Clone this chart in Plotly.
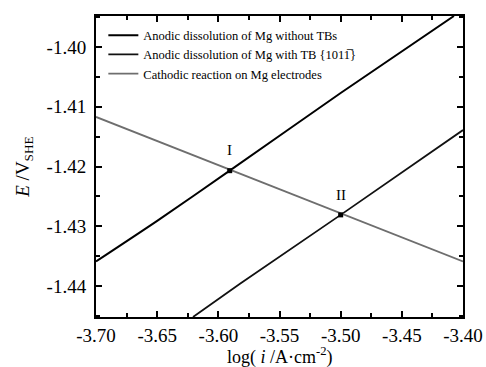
import plotly.graph_objects as go

# Data
x_no_tb = [-3.70, -3.65, -3.5907, -3.50, -3.4074]
y_no_tb = [-1.4359, -1.4291, -1.4207, -1.4077, -1.3948]

x_tb = [-3.6207, -3.582, -3.50, -3.40]
y_tb = [-1.4452, -1.4396, -1.4281, -1.4139]

x_cath = [-3.70, -3.40]
y_cath = [-1.4117, -1.4359]

x_pts = [-3.5907, -3.50]
y_pts = [-1.4207, -1.4281]
pt_labels = ["I", "II"]
label_offset = 0.0034

x_ticks = [-3.70, -3.65, -3.60, -3.55, -3.50, -3.45, -3.40]
y_ticks = [-1.44, -1.43, -1.42, -1.41, -1.40]

FONT = "Liberation Serif"

fig = go.Figure()
fig.add_trace(go.Scatter(x=x_no_tb, y=y_no_tb, mode="lines",
                         line=dict(color="black", width=2, shape="spline", smoothing=0.6),
                         name="Anodic dissolution of Mg without TBs"))
fig.add_trace(go.Scatter(x=x_tb, y=y_tb, mode="lines",
                         line=dict(color="#111111", width=1.8),
                         name="Anodic dissolution of Mg with TB {1011\u0305}"))
fig.add_trace(go.Scatter(x=x_cath, y=y_cath, mode="lines",
                         line=dict(color="#6e6e6e", width=1.8),
                         name="Cathodic reaction on Mg electrodes"))
fig.add_trace(go.Scatter(x=x_pts, y=y_pts, mode="markers",
                         marker=dict(symbol="square", size=5, color="black"),
                         showlegend=False))
for xp, yp, lb in zip(x_pts, y_pts, pt_labels):
    fig.add_annotation(x=xp, y=yp + label_offset, text=lb, showarrow=False,
                       font=dict(family=FONT, size=15, color="black"))

# x-axis title placed below the tick labels
fig.add_annotation(x=0.5, xref="paper", y=-0.131, yref="paper", yanchor="middle",
                   text="log( <i>i</i> /A\u00b7cm<sup>-2</sup>)", showarrow=False,
                   font=dict(family=FONT, size=18, color="black"))

axis_common = dict(showline=True, linecolor="black", linewidth=2, mirror="allticks",
                   ticks="inside", ticklen=6, tickwidth=1.5, tickcolor="black",
                   showgrid=False, zeroline=False, automargin=False,
                   tickfont=dict(family=FONT, size=19, color="black"))

fig.update_xaxes(range=[-3.70, -3.40], tickvals=x_ticks,
                 ticktext=[f"{v:.2f}" for v in x_ticks],
                 ticklabelstandoff=0,
                 minor=dict(ticks="inside", ticklen=4, tickwidth=1.5, tickcolor="black", dtick=0.025),
                 **axis_common)
fig.update_yaxes(range=[-1.4452, -1.3948], tickvals=y_ticks,
                 ticktext=[f"{v:.2f}" for v in y_ticks],
                 ticklabelstandoff=4,
                 minor=dict(ticks="inside", ticklen=4, tickwidth=1.5, tickcolor="black", dtick=0.005),
                 title=dict(text="<i>E</i> /V<sub>SHE</sub>", standoff=12,
                            font=dict(family=FONT, size=19, color="black")),
                 **axis_common)

fig.update_layout(width=486, height=367,
                  margin=dict(l=96, r=23, t=16, b=50, autoexpand=False),
                  paper_bgcolor="white", plot_bgcolor="white",
                  font=dict(family=FONT, color="black"),
                  showlegend=True,
                  legend=dict(x=0.02, y=0.985, xanchor="left", yanchor="top",
                              bgcolor="rgba(0,0,0,0)", borderwidth=0,
                              font=dict(family=FONT, size=12.5, color="black"),
                              tracegroupgap=0, itemwidth=30))

fig.write_html("out.html")
